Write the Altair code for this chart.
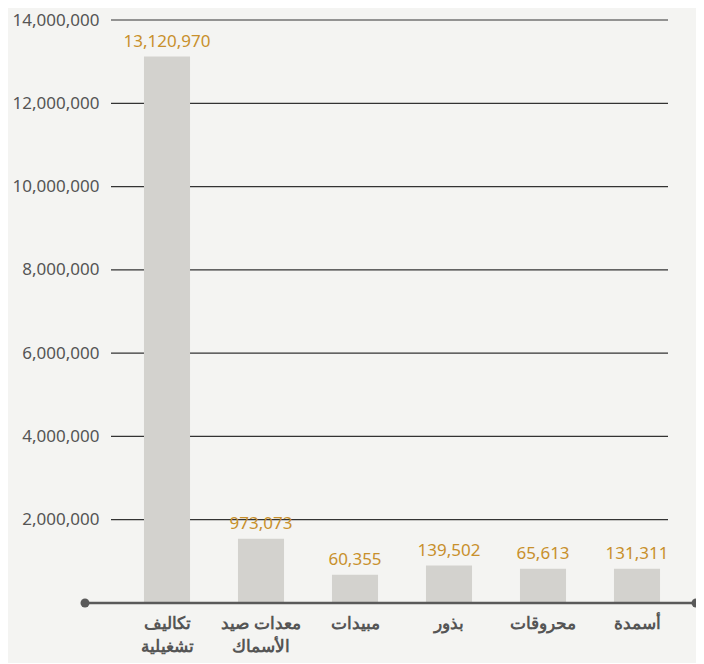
import altair as alt
import pandas as pd

categories = ["تكاليف\nتشغيلية", "معدات صيد\nالأسماك", "مبيدات", "بذور", "محروقات", "أسمدة"]
label_values = [13120970, 973073, 60355, 139502, 65613, 131311]
# bar heights as drawn in the picture
bar_heights = [13120970, 1540000, 680000, 900000, 820000, 820000]
tick_values = [0, 2000000, 4000000, 6000000, 8000000, 10000000, 12000000, 14000000]

df = pd.DataFrame({
    "cat": categories,
    "height": bar_heights,
    "label": [f"{v:,}" for v in label_values],
})
grid_df = pd.DataFrame({"t": tick_values[1:]})
base_df = pd.DataFrame({"t": [0]})

FONT = "Noto Sans"
yscale = alt.Scale(domain=[0, 14000000], nice=False)

grid = alt.Chart(grid_df).mark_rule(color="#333333", strokeWidth=1.2).encode(
    y=alt.Y("t:Q", scale=yscale,
            axis=alt.Axis(values=tick_values, format=",d", grid=False, domain=False,
                          ticks=False, labelPadding=21, labelFont=FONT, labelFontSize=17,
                          labelColor="#555555", title=None,
                          labelExpr="datum.value == 0 ? '' : datum.label")),
    x=alt.value(-9),
    x2=alt.value(548),
)

bars = alt.Chart(df).mark_bar(color="#d3d2ce").encode(
    x=alt.X("cat:N", sort=None,
            scale=alt.Scale(paddingInner=0.51, paddingOuter=0.255),
            axis=alt.Axis(title=None, domain=False, ticks=False, labelAngle=0,
                          labelPadding=12, labelFont=FONT, labelFontSize=17,
                          labelFontWeight="bold", labelColor="#555555",
                          labelLineHeight=23,
                          labelExpr="split(datum.label, '\\n')")),
    y=alt.Y("height:Q", scale=yscale),
)

texts = alt.Chart(df).mark_text(
    color="#c8902c", font=FONT, fontSize=17, baseline="bottom", dy=-6
).encode(
    x=alt.X("cat:N", sort=None),
    y=alt.Y("height:Q", scale=yscale),
    text="label:N",
)

baseline = alt.Chart(base_df).mark_rule(color="#5a5a5a", strokeWidth=2.3).encode(
    y=alt.Y("t:Q", scale=yscale),
    x=alt.value(-35),
    x2=alt.value(590),
)

dots_df = pd.DataFrame({"t": [0, 0], "px": [-35, 576]})
dots = alt.Chart(dots_df).mark_circle(color="#5a5a5a", opacity=1, size=80).encode(
    y=alt.Y("t:Q", scale=yscale),
    x=alt.X("px:Q", scale=None, axis=None),
)

chart = alt.layer(grid, bars, texts, baseline, dots).properties(
    width=564,
    height=583,
    background="#f4f4f2",
    padding={"left": 112, "top": 12, "right": 12, "bottom": 60},
    autosize=alt.AutoSizeParams(type="none"),
).configure_view(stroke=None)

chart.save("out.html", embed_options={"renderer": "svg", "actions": False})
